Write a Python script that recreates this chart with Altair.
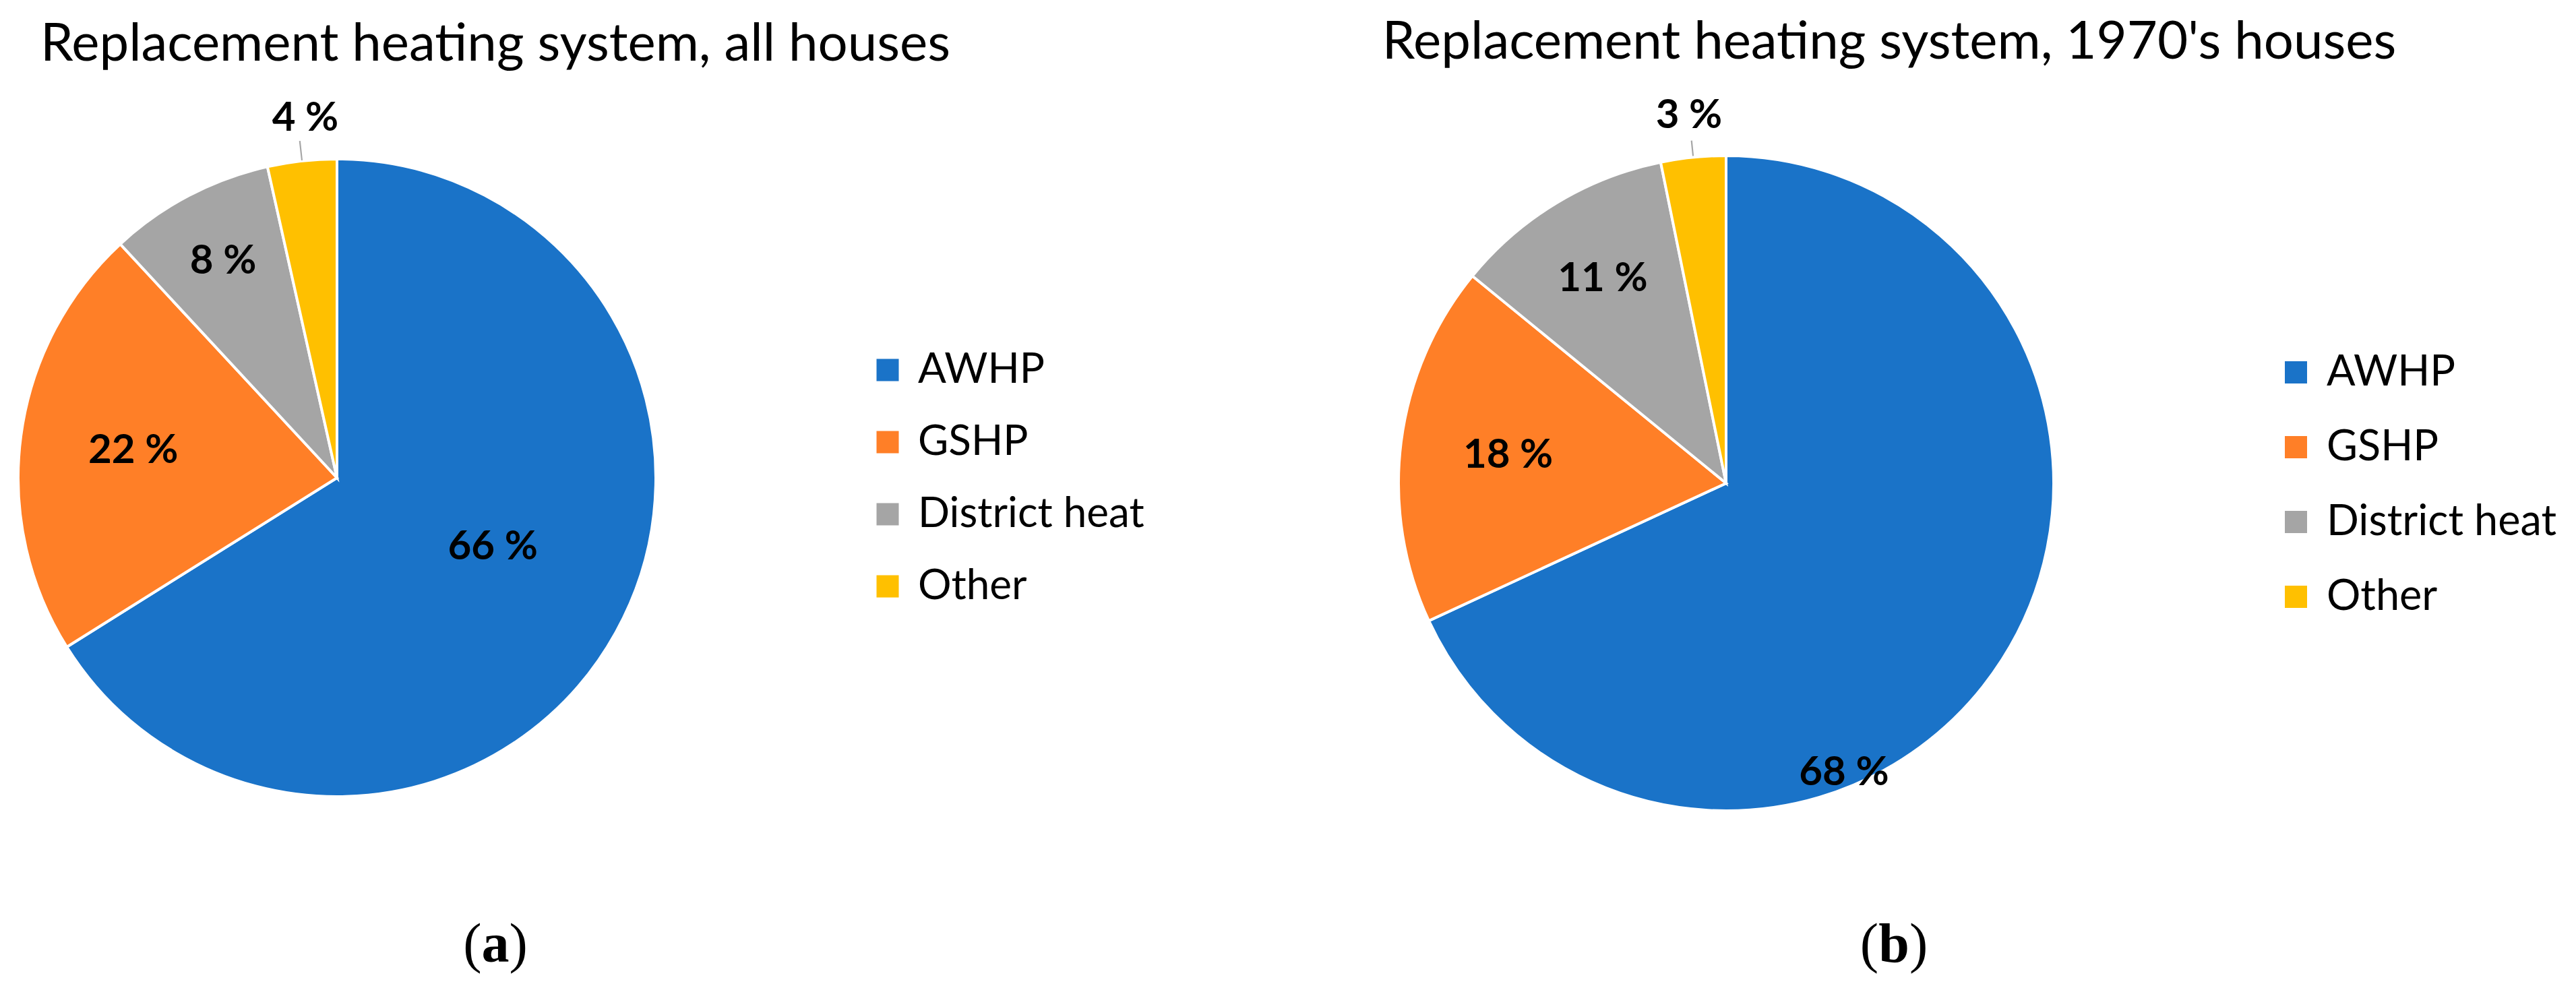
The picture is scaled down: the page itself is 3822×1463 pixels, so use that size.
import altair as alt
import pandas as pd

# ---- data ----
categories = ["AWHP", "GSHP", "District heat", "Other"]
values_all = [66.1, 22.0, 8.4, 3.5]
values_1970 = [68.1, 17.8, 10.9, 3.2]
labels_all = ["66 %", "22 %", "8 %", "4 %"]
labels_1970 = ["68 %", "18 %", "11 %", "3 %"]
colors = ["#1A73C8", "#FF7F27", "#A5A5A5", "#FFC000"]
title_all = "Replacement heating system, all houses"
title_1970 = "Replacement heating system, 1970's houses"

# ---- layout (pixels, view coordinates) ----
W, H = 3800, 1440
# label placement: radius and angular offset (in % of circle)
lab_r_all = [253, 305, 363, 535]
lab_off_all = [-1.4, 0, 0, 0.35]
lab_r_1970 = [464, 326, 354, 548]
lab_off_1970 = [9.8, 0, 0, 0]

FONT = "Lato"
SERIF = "Liberation Serif"


def make_df(values, labels, lr, off):
    return pd.DataFrame({
        "category": categories,
        "value": values,
        "label": labels,
        "idx": list(range(len(categories))),
        "lr": lr,
        "aoff": off,
    })


def pie_layers(df, cx, cy, R, leader_r, legend_x, legend_y, label_size, legend_size, row_pad):
    theta_scale = alt.Scale(domain=[0, 100])
    arcs = alt.Chart(df).mark_arc(
        outerRadius=R, stroke="white", strokeWidth=4
    ).encode(
        theta=alt.Theta("value:Q", stack=True, scale=theta_scale),
        color=alt.Color(
            "category:N",
            scale=alt.Scale(domain=categories, range=colors),
            legend=alt.Legend(
                orient="none", legendX=legend_x, legendY=legend_y, title=None,
                symbolType="square", symbolSize=1089, symbolStrokeWidth=0,
                symbolOpacity=1,
                labelFont=FONT, labelFontSize=legend_size, labelColor="black",
                labelLimit=1000, rowPadding=row_pad, labelOffset=14, padding=0,
            ),
        ),
        order=alt.Order("idx:Q"),
        x=alt.value(cx), y=alt.value(cy),
    )
    base = alt.Chart(df).transform_window(
        cum="sum(value)", frame=[None, 0], sort=[alt.SortField("idx", order="ascending")]
    ).transform_calculate(
        mid="datum.cum - datum.value/2",
        ang="datum.cum - datum.value/2 + datum.aoff",
    )
    texts = base.mark_text(
        font=FONT, fontWeight="bold", fontSize=label_size, align="center",
        baseline="middle", color="black"
    ).encode(
        theta=alt.Theta("ang:Q", stack=False, scale=theta_scale),
        radius=alt.Radius("lr:Q", scale=None),
        text="label:N",
        x=alt.value(cx), y=alt.value(cy),
    )
    leader = base.transform_filter(
        "datum.category == 'Other'"
    ).transform_calculate(
        a0="datum.mid - 0.035", a1="datum.mid + 0.035"
    ).mark_arc(
        innerRadius=leader_r[0], outerRadius=leader_r[1], color="#A6A6A6"
    ).encode(
        theta=alt.Theta("a0:Q", stack=False, scale=theta_scale),
        theta2="a1:Q",
        x=alt.value(cx), y=alt.value(cy),
    )
    return [arcs, leader, texts]


def text_layer(txt, x, y, size, font=FONT, weight="normal", align="center"):
    return alt.Chart(pd.DataFrame({"t": [txt]})).mark_text(
        font=font, fontSize=size, fontWeight=weight, align=align,
        baseline="alphabetic", color="black"
    ).encode(text="t:N", x=alt.value(x), y=alt.value(y))


df_all = make_df(values_all, labels_all, lab_r_all, lab_off_all)
df_1970 = make_df(values_1970, labels_1970, lab_r_1970, lab_off_1970)

layers = []
layers += pie_layers(df_all, 492, 701, 473, (474, 503), 1278, 510, 60, 62, 45)
layers += pie_layers(df_1970, 2553, 709, 486, (488, 511), 3367, 513, 60, 63, 47)

# titles
layers.append(text_layer(title_all, 727, 82, 78))
layers.append(text_layer(title_1970, 2795, 79, 78))

# sub captions (a) and (b)
cap_size = 82
cap_y = 1419
for letter, cx, half in [("a", 727, 20.5), ("b", 2802, 23)]:
    layers.append(text_layer("(", cx - half, cap_y, cap_size, font=SERIF, align="right"))
    layers.append(text_layer(letter, cx, cap_y, cap_size, font=SERIF, weight="bold"))
    layers.append(text_layer(")", cx + half, cap_y, cap_size, font=SERIF, align="left"))

chart = alt.layer(*layers).resolve_scale(color="independent").properties(
    width=W, height=H, padding=0,
    autosize=alt.AutoSizeParams(type="none"),
).configure_view(strokeWidth=0)

chart.save("out.html", embed_options={"renderer": "svg", "actions": False})
